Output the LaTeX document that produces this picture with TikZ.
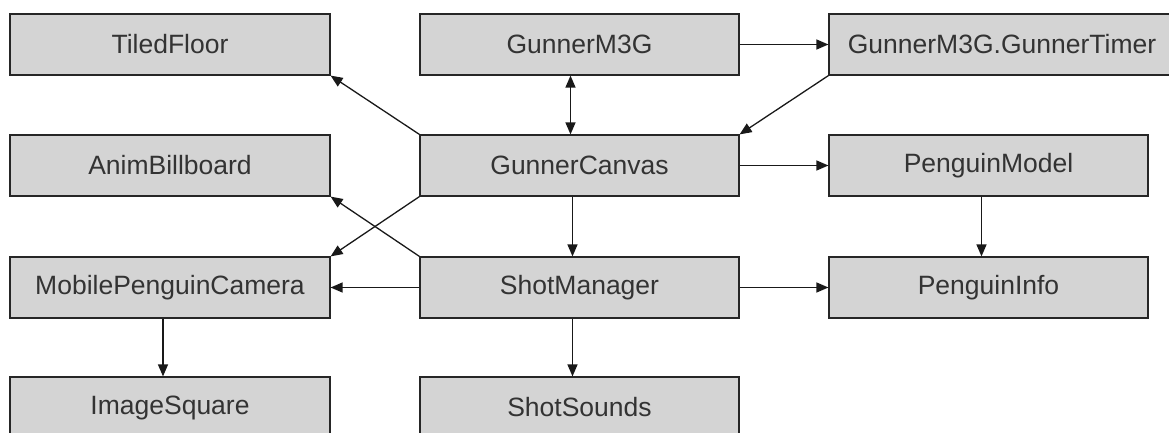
\documentclass[tikz,border=0pt]{standalone}
\usepackage{fontspec}
\setmainfont{Liberation Sans}
\usetikzlibrary{arrows.meta}
\tikzset{
  cls/.style={draw=black!85, fill=black!17, line width=1.2pt, inner sep=0pt,
    minimum width=320pt, minimum height=61pt, text=black!80,
    font=\fontsize{26.5pt}{30pt}\selectfont},
  dep/.style={line width=1.3pt, draw=black!90,
    -{Triangle[length=12pt,width=10pt]}},
  bidep/.style={line width=1.3pt, draw=black!90,
    {Triangle[length=12pt,width=10pt]}-{Triangle[length=12pt,width=10pt]}},
}
\begin{document}
\begin{tikzpicture}[x=1pt,y=-1pt]
\clip (0,0) rectangle (1169,433);
\fill[white] (0,0) rectangle (1169,433);

% left column
\node[cls] (tiled)  at (170,44.5)  {TiledFloor};
\node[cls] (anim)   at (170,165.5) {AnimBillboard};
\node[cls] (mpc)    at (170,287.5) {MobilePenguinCamera};
\node[cls] (img)    at (170,407.5) {ImageSquare};

% middle column
\node[cls, minimum width=319pt] (m3g)    at (579.5,44.5)  {GunnerM3G};
\node[cls, minimum width=319pt] (canvas) at (579.5,165.5) {GunnerCanvas};
\node[cls, minimum width=319pt] (shot)   at (579.5,287.5) {ShotManager};
\node[cls, minimum width=319pt] (sounds) at (579.5,407.5) {ShotSounds};

% right column
\node[cls, minimum width=346pt] (timer) at (1002,44.5)  {GunnerM3G.GunnerTimer};
\node[cls, minimum width=319pt] (model) at (988.5,165.5) {PenguinModel};
\node[cls, minimum width=319pt] (info)  at (988.5,287.5) {PenguinInfo};

% dependencies
\draw[bidep] ([xshift=-9pt]m3g.south) -- ([xshift=-9pt]canvas.north);
\draw[dep] (m3g.east) -- (timer.west);
\draw[dep] (timer.south west) -- (canvas.north east);
\draw[dep] (canvas.north west) -- (tiled.south east);
\draw[dep] (canvas.south west) -- (mpc.north east);
\draw[dep] (canvas.east) -- (model.west);
\draw[dep] ([xshift=-7pt]canvas.south) -- ([xshift=-7pt]shot.north);
\draw[dep] (shot.north west) -- (anim.south east);
\draw[dep] (shot.west) -- (mpc.east);
\draw[dep] (shot.east) -- (info.west);
\draw[dep] ([xshift=-7pt]shot.south) -- ([xshift=-7pt]sounds.north);
\draw[dep] ([xshift=-7pt]mpc.south) -- ([xshift=-7pt]img.north);
\draw[dep] ([xshift=-7pt]model.south) -- ([xshift=-7pt]info.north);
\end{tikzpicture}
\end{document}
